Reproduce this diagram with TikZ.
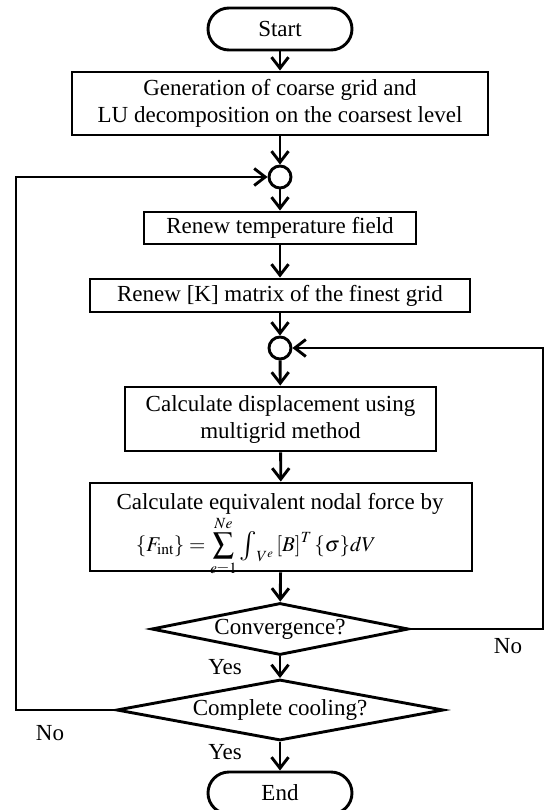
\documentclass[tikz,border=0pt]{standalone}
\usepackage{mathptmx}
\usepackage{fontspec}
\setmainfont{Liberation Serif}
\usetikzlibrary{arrows.meta,shapes.geometric}
\newcommand{\bigint}{\mathop{\vcenter{\hbox{\scalebox{1.4}{$\textstyle\int$}}}}\nolimits}
\begin{document}
\begin{tikzpicture}[x=1pt,y=-1pt,
  every node/.style={font=\fontsize{23}{27}\selectfont, inner sep=0pt},
  box/.style={draw, line width=2.9pt, align=center},
  term/.style={draw, line width=2.9pt, rounded corners=21pt, minimum width=144pt, minimum height=42pt},
  conn/.style={draw, circle, line width=2.9pt, minimum size=22pt},
  dec/.style={draw, diamond, line width=2.9pt, align=center},
  flow/.style={line width=2.9pt, -{Straight Barb[length=11pt,width=17pt]}},
  lbl/.style={}]
\useasboundingbox (0,0) rectangle (547,810);
\node[term] (start) at (280,29) {Start};
\node[box, minimum width=416pt, minimum height=63pt] (gen) at (280,103.5) {Generation of coarse grid and\\LU decomposition on the coarsest level};
\node[conn] (c1) at (280,177) {};
\node[box, minimum width=272pt, minimum height=32pt] (temp) at (280,228) {Renew temperature field};
\node[box, minimum width=380pt, minimum height=33pt] (kmat) at (280,295.5) {Renew [K] matrix of the finest grid};
\node[conn] (c2) at (280,348) {};
\node[box, minimum width=311pt, minimum height=64pt] (disp) at (280.5,419) {Calculate displacement using\\multigrid method};
\node[box, minimum width=382pt, minimum height=88pt] (force) at (281,527) {};
\node (forcetxt) at (280,504) {Calculate equivalent nodal force by};
\node[font=\fontsize{21}{25}\selectfont] (forcemath) at (256,546) {$\displaystyle \{F_{\mathrm{int}}\}=\sum_{e=1}^{Ne}\bigint_{V^e}\,[B]^T\,\{\sigma\}dV$};
\node[dec, shape aspect=4.94, minimum width=257pt, minimum height=52pt] (conv) at (280,629) {Convergence?};
\node[dec, shape aspect=5.36, minimum width=327pt, minimum height=61pt] (cool) at (280,710) {Complete cooling?};
\node[term] (end) at (280,793) {End};
\node[lbl] (no1) at (508,646) {No};
\node[lbl] (yes1) at (225,667) {Yes};
\node[lbl] (no2) at (50,733) {No};
\node[lbl] (yes2) at (225,752) {Yes};
\coordinate (lx) at (16,0);
\coordinate (rx) at (543,0);
\draw[flow] (start) -- (gen);
\draw[flow] (gen) -- (c1);
\draw[flow] (c1) -- (temp);
\draw[flow] (temp) -- (kmat);
\draw[flow] (kmat) -- (c2);
\draw[flow] (c2) -- (disp);
\draw[flow] (disp) -- (force);
\draw[flow] (force) -- (conv);
\draw[flow] (conv) -- (cool);
\draw[flow] (cool) -- (end);
\draw[flow] (cool.west) -- (cool.west -| lx) -- (c1 -| lx) -- (c1.west);
\draw[flow] (conv.east) -- (conv.east -| rx) -- (c2 -| rx) -- (c2.east);
\end{tikzpicture}
\end{document}
